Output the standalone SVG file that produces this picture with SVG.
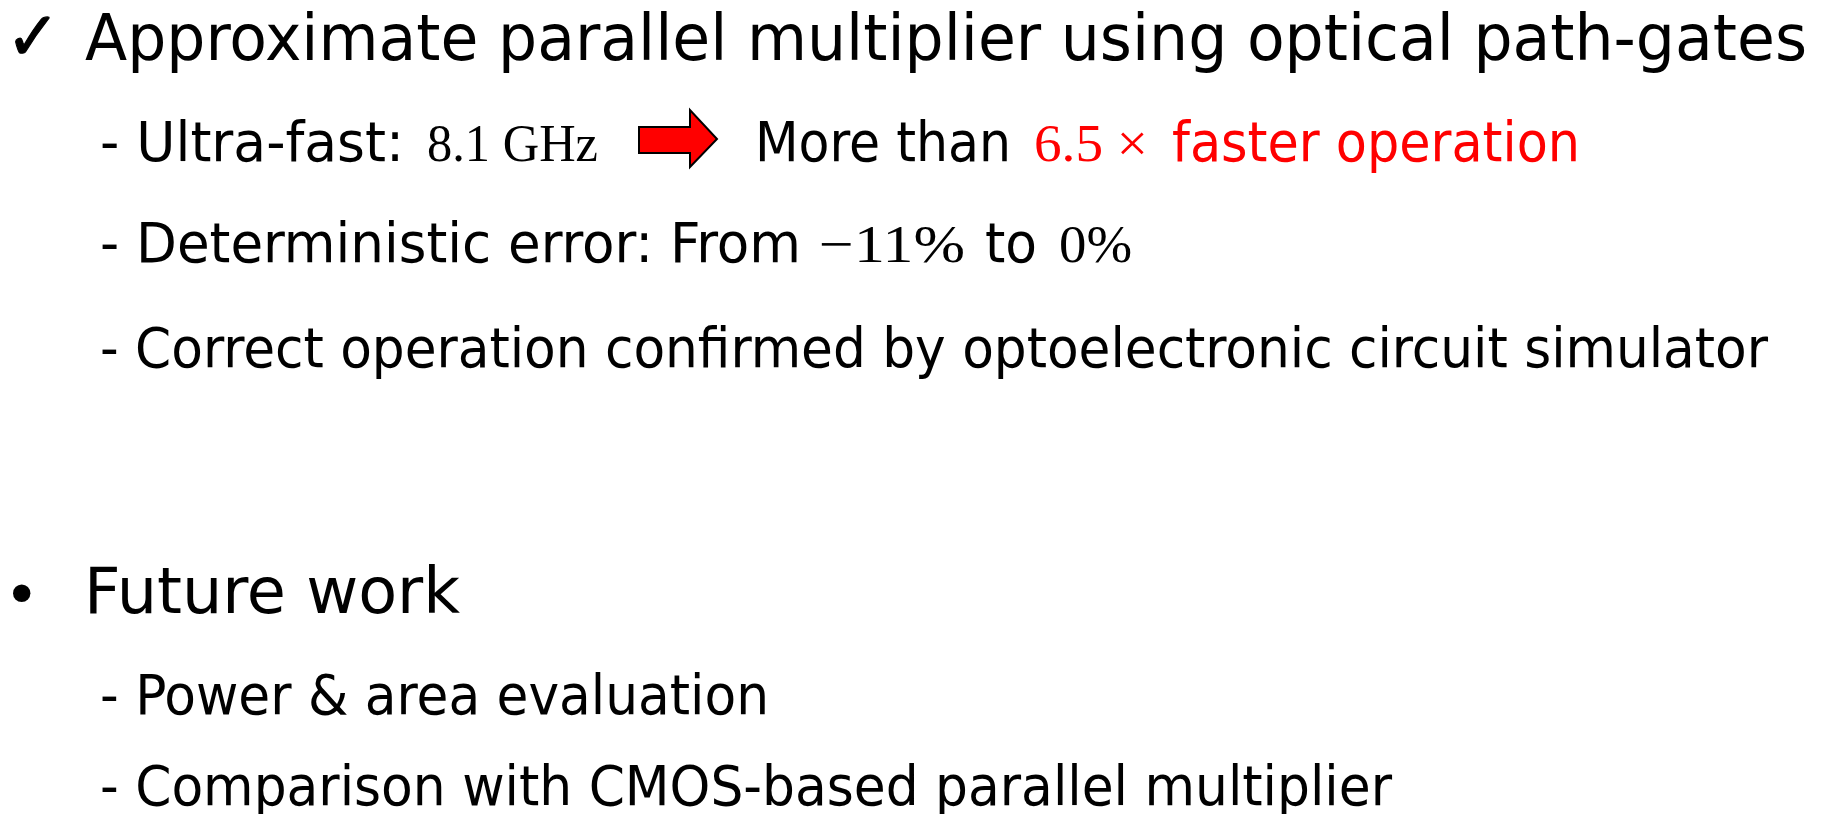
<svg xmlns="http://www.w3.org/2000/svg" width="1827" height="814" viewBox="0 0 1827 814">
<style>
.sans{font-family:"DejaVu Sans","Liberation Sans",sans-serif;font-stretch:condensed;fill:#000}
.serif{font-family:"Liberation Serif","DejaVu Serif",serif;fill:#000}
.big{font-size:64px}
.sub{font-size:56px}
.num{font-size:53px}
.red{fill:#ff0000}
</style>
<rect width="1827" height="814" fill="#ffffff"/>
<g id="title">
<text x="0" y="0" transform="translate(6,60) scale(0.95,1)" font-size="68" font-family="DejaVu Sans, sans-serif" fill="#000" stroke="#000" stroke-width="1.2">✓</text>
<text class="sans big" x="85" y="60" textLength="1722" lengthAdjust="spacingAndGlyphs">Approximate parallel multiplier using optical path-gates</text>
</g>
<g id="line-speed">
<text class="sans sub" x="100" y="161" textLength="304" lengthAdjust="spacingAndGlyphs">- Ultra-fast:</text>
<text class="serif num" x="427" y="161" textLength="171" lengthAdjust="spacingAndGlyphs">8.1 GHz</text>
<polygon points="639,127 690,127 690,110 717,139 690,167 690,153 639,153" fill="#ff0000" stroke="#000" stroke-width="2" stroke-linejoin="miter"/>
<text class="sans sub" x="755" y="161" textLength="256" lengthAdjust="spacingAndGlyphs">More than</text>
<text class="serif num red" x="1034" y="161" textLength="114" lengthAdjust="spacingAndGlyphs">6.5 ×</text>
<text class="sans sub red" x="1172" y="161" textLength="408" lengthAdjust="spacingAndGlyphs">faster operation</text>
</g>
<g id="line-error">
<text class="sans sub" x="100" y="262" textLength="701" lengthAdjust="spacingAndGlyphs">- Deterministic error: From</text>
<text class="serif num" x="819" y="262" textLength="146" lengthAdjust="spacingAndGlyphs">−11%</text>
<text class="sans sub" x="985" y="262" textLength="52" lengthAdjust="spacingAndGlyphs">to</text>
<text class="serif num" x="1059" y="262" textLength="73" lengthAdjust="spacingAndGlyphs">0%</text>
</g>
<g id="line-confirm">
<text class="sans sub" x="100" y="367" textLength="1668" lengthAdjust="spacingAndGlyphs">- Correct operation confirmed by optoelectronic circuit simulator</text>
</g>
<g id="future">
<text x="4" y="616" font-size="60" font-family="DejaVu Sans, sans-serif" fill="#000">•</text>
<text class="sans big" x="84" y="613" textLength="376" lengthAdjust="spacingAndGlyphs">Future work</text>
</g>
<g id="line-power">
<text class="sans sub" x="100" y="714" textLength="669" lengthAdjust="spacingAndGlyphs">- Power &amp; area evaluation</text>
</g>
<g id="line-cmos">
<text class="sans sub" x="100" y="805" textLength="1292" lengthAdjust="spacingAndGlyphs">- Comparison with CMOS-based parallel multiplier</text>
</g>
<g id="connectors"></g>
</svg>
